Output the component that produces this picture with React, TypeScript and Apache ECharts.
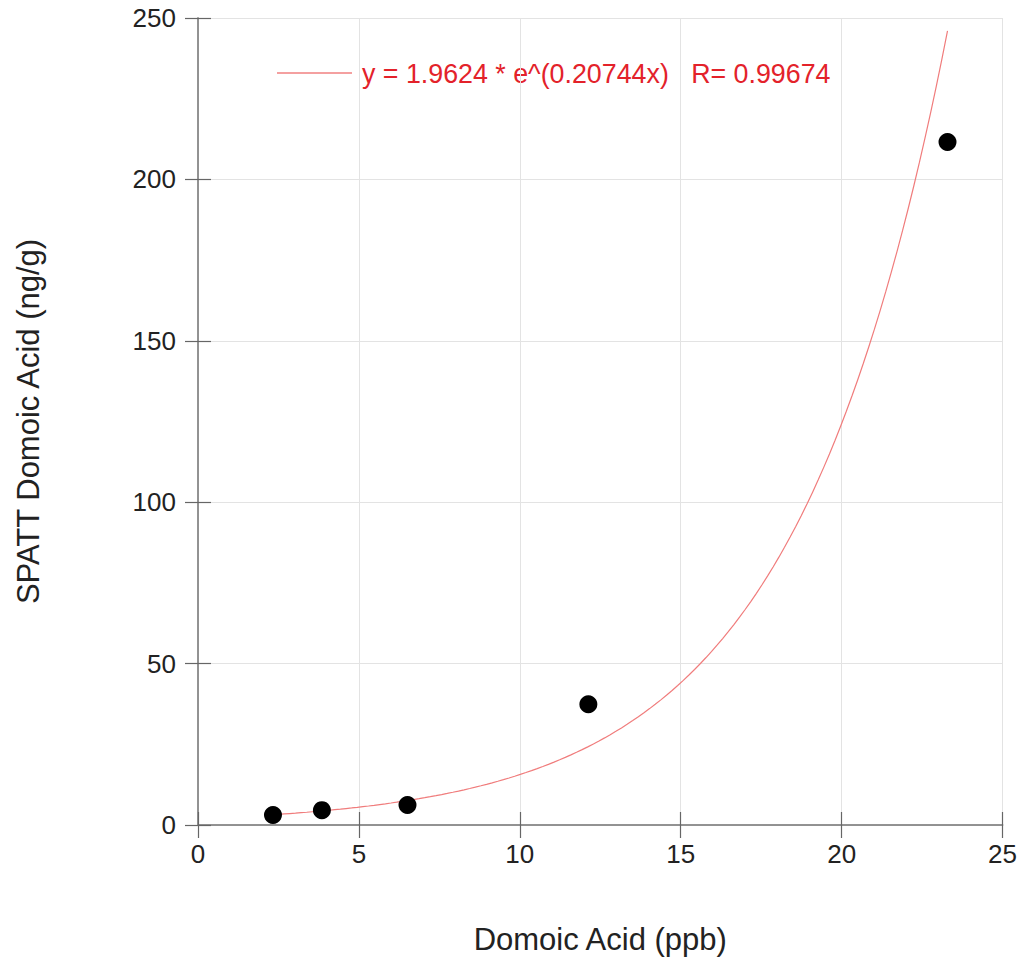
import React, { useEffect, useRef } from "react";
import * as echarts from "echarts";

// Measured points (Domoic Acid ppb, SPATT ng/g)
const xValues = [2.33, 3.85, 6.51, 12.13, 23.29];
const yValues = [3.1, 4.6, 6.2, 37.4, 211.6];

// Fit shown in the chart: y = A * e^(B x)
const FIT_A = 1.9624;
const FIT_B = 0.20744;
const FIT_R = 0.99674;
const FIT_STEPS = 120;

const xTicks = [0, 5, 10, 15, 20, 25];
const yTicks = [0, 50, 100, 150, 200, 250];

const xName = "Domoic Acid (ppb)";
const yName = "SPATT Domoic Acid (ng/g)";
const legendText = `y = ${FIT_A} * e^(${FIT_B}x)   R= ${FIT_R}`;

export default function App() {
  const ref = useRef<HTMLDivElement>(null);
  useEffect(() => {
    document.body.style.margin = "0";
    if (!ref.current) return;
    const chart = echarts.init(ref.current, undefined, { renderer: "svg" });
    const points = xValues.map((x, i) => [x, yValues[i]]);
    const x0 = Math.min(...xValues);
    const x1 = Math.max(...xValues);
    const fit: number[][] = [];
    for (let i = 0; i <= FIT_STEPS; i++) {
      const x = x0 + ((x1 - x0) * i) / FIT_STEPS;
      fit.push([x, FIT_A * Math.exp(FIT_B * x)]);
    }
    const font = "'Liberation Sans', Arial, sans-serif";
    const frame = { show: true, lineStyle: { color: "#8c8c8c", width: 1.5 } };
    const ticks = { show: true, inside: true, length: 13, lineStyle: { color: "#666", width: 1.2 } };
    const xMin = xTicks[0], xMax = xTicks[xTicks.length - 1], xInt = xTicks[1] - xTicks[0];
    const yMin = yTicks[0], yMax = yTicks[yTicks.length - 1], yInt = yTicks[1] - yTicks[0];
    chart.setOption({
      animation: false,
      backgroundColor: "#fff",
      textStyle: { fontFamily: font },
      grid: { left: 198, top: 18, width: 806, height: 807, containLabel: false },
      xAxis: [
        {
          type: "value", min: xMin, max: xMax, interval: xInt,
          axisLine: frame, axisTick: ticks,
          splitLine: { show: true, lineStyle: { color: "#e3e3e3", width: 1 } },
          axisLabel: { color: "#222", fontSize: 26, margin: 16, fontFamily: font },
          name: xName, nameLocation: "middle", nameGap: 99,
          nameTextStyle: { color: "#222", fontSize: 31, fontFamily: font },
        },
        {
          type: "value", min: xMin, max: xMax, interval: xInt, position: "top",
          axisLine: frame, axisTick: ticks, splitLine: { show: false }, axisLabel: { show: false },
        },
      ],
      yAxis: [
        {
          type: "value", min: yMin, max: yMax, interval: yInt,
          axisLine: frame, axisTick: ticks,
          splitLine: { show: true, lineStyle: { color: "#e3e3e3", width: 1 } },
          axisLabel: { color: "#222", fontSize: 26, margin: 22, fontFamily: font },
          name: yName, nameLocation: "middle", nameGap: 154, nameRotate: 90,
          nameTextStyle: { color: "#222", fontSize: 31, fontFamily: font },
        },
        {
          type: "value", min: yMin, max: yMax, interval: yInt, position: "right",
          axisLine: frame, axisTick: ticks, splitLine: { show: false }, axisLabel: { show: false },
        },
      ],
      series: [
        {
          type: "line", name: "fit", data: fit, showSymbol: false, symbol: "none",
          lineStyle: { color: "#f07c7c", width: 1.2 }, z: 2,
        },
        {
          type: "scatter", name: "data", data: points, symbolSize: 18,
          itemStyle: { color: "#000", opacity: 1 }, z: 3,
        },
      ],
      graphic: [
        {
          type: "line", shape: { x1: 277, y1: 73, x2: 352, y2: 73 },
          style: { stroke: "#f4a0a0", lineWidth: 2 },
        },
        {
          type: "text", x: 362, y: 74,
          style: { text: legendText, fill: "#e3222a", fontSize: 26.8, fontFamily: font, verticalAlign: "middle", align: "left" },
        },
      ],
    });
    return () => chart.dispose();
  }, []);
  return <div ref={ref} style={{ width: 1020, height: 963 }} />;
}
